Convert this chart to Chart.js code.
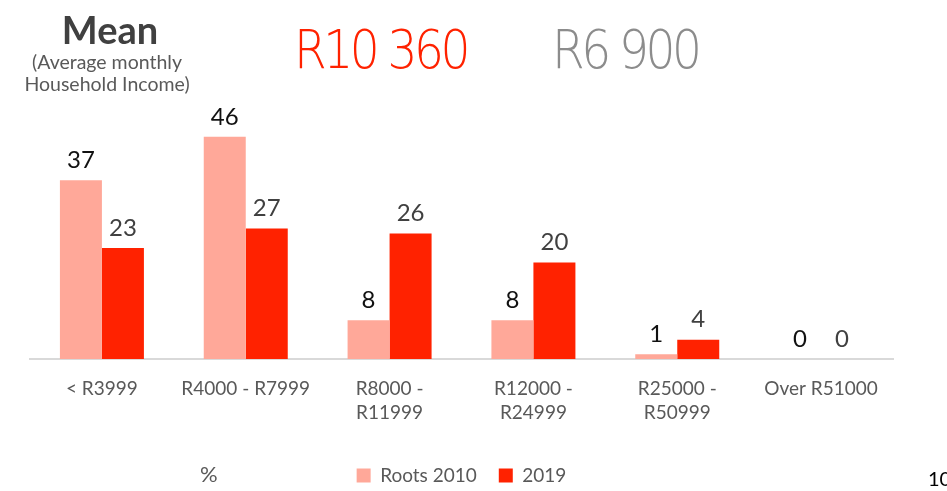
<!DOCTYPE html>
<html>
<head>
<meta charset="utf-8">
<script src="https://cdn.jsdelivr.net/npm/chart.js@4/dist/chart.umd.min.js"></script>
<style>
  body { margin: 0; background: #fff; font-family: Lato, "Open Sans", sans-serif; }
  #wrap { position: relative; width: 947px; height: 491px; overflow: hidden; }
  #wrap canvas { position: absolute; left: 0; top: 0; }
  .txt { position: absolute; white-space: nowrap; }
  #mean { left: 0; width: 220px; top: 6px; text-align: center; font-size: 38px; font-weight: bold; color: #404040; }
  #sub { left: 0; width: 214px; top: 51px; text-align: center; font-size: 19.5px; line-height: 22px; color: #595959; }
  .big { font-family: "DejaVu Sans", Lato, sans-serif; font-weight: 200; font-size: 53px;
         letter-spacing: -4px; transform: scaleX(0.89); transform-origin: left top; }
  #r2010 { left: 294px; top: 19px; color: #ff2200; }
  #r2019 { left: 552px; top: 19px; color: #8c8c8c; }
  #pct { left: 200px; top: 460px; font-size: 22px; color: #595959; }
  #page { left: 928px; top: 466px; font-size: 20px; color: #000; }
</style>
</head>
<body>
<div id="wrap">
  <canvas id="incomeChart" width="947" height="491"></canvas>
  <div class="txt" id="mean">Mean</div>
  <div class="txt" id="sub">(Average monthly<br>Household Income)</div>
  <div class="txt big" id="r2010">R10 360</div>
  <div class="txt big" id="r2019">R6 900</div>
  <div class="txt" id="pct">%</div>
  <div class="txt" id="page">10</div>
</div>
<script>
// income brackets and share of households (%)
const brackets = [
  ["< R3999"],
  ["R4000 - R7999"],
  ["R8000 -", "R11999"],
  ["R12000 -", "R24999"],
  ["R25000 -", "R50999"],
  ["Over R51000"]
];
const roots2010 = [37, 46, 8, 8, 1, 0];
const survey2019 = [23, 27, 26, 20, 4, 0];
const seriesNames = ["Roots 2010", "2019"];

// value labels drawn on top of each bar
const valueLabels = {
  id: "valueLabels",
  afterDatasetsDraw(chart) {
    const ctx = chart.ctx;
    const colors = ["#111111", "#404040"];
    ctx.save();
    ctx.font = "24px Lato, 'Open Sans', sans-serif";
    ctx.textAlign = "center";
    ctx.textBaseline = "bottom";
    chart.data.datasets.forEach((ds, i) => {
      chart.getDatasetMeta(i).data.forEach((bar, j) => {
        ctx.fillStyle = colors[i];
        ctx.fillText(ds.data[j], bar.x, bar.y - 8);
      });
    });
    ctx.restore();
  }
};

const ctx = document.getElementById("incomeChart").getContext("2d");
new Chart(ctx, {
  type: "bar",
  data: {
    labels: brackets,
    datasets: [
      {
        label: seriesNames[0],
        data: roots2010,
        backgroundColor: "#ffa899",
        categoryPercentage: 0.584,
        barPercentage: 1.0
      },
      {
        label: seriesNames[1],
        data: survey2019,
        backgroundColor: "#ff2200",
        categoryPercentage: 0.584,
        barPercentage: 1.0
      }
    ]
  },
  options: {
    responsive: false,
    animation: false,
    layout: { padding: { left: 30, right: 54, top: 117.5, bottom: -4 } },
    plugins: {
      legend: {
        position: "bottom",
        labels: {
          color: "#595959",
          font: { size: 19, family: "Lato, 'Open Sans', sans-serif" },
          boxWidth: 14,
          boxHeight: 14,
          padding: 22
        }
      },
      tooltip: { enabled: false }
    },
    scales: {
      x: {
        grid: { display: false },
        border: { color: "#d9d9d9", width: 2 },
        ticks: {
          color: "#595959",
          font: { size: 19, family: "Lato, 'Open Sans', sans-serif", lineHeight: 1.25 },
          padding: 10,
          maxRotation: 0
        },
        afterFit(scale) { scale.height = 85; }
      },
      y: {
        display: false,
        min: 0,
        max: 50
      }
    }
  },
  plugins: [valueLabels]
});
</script>
</body>
</html>
